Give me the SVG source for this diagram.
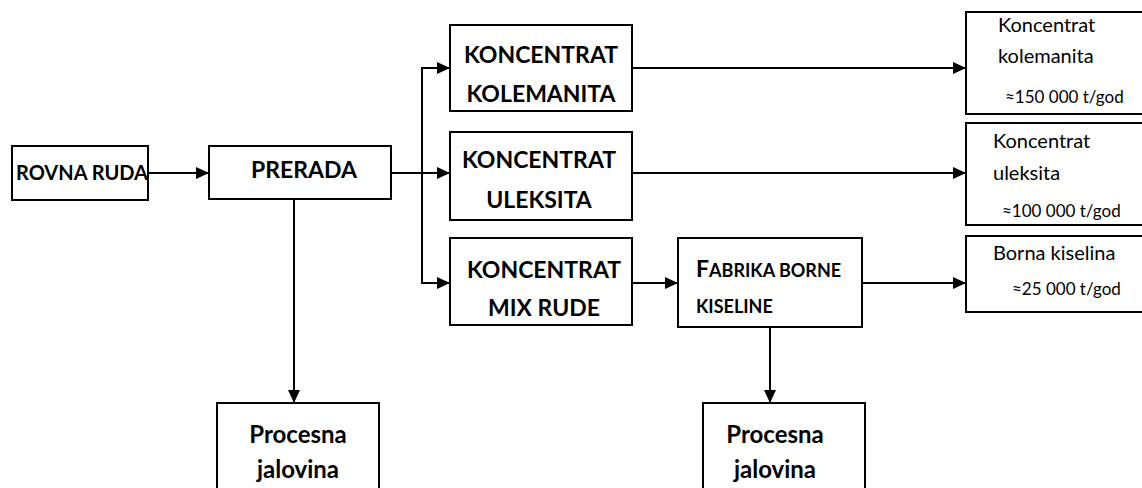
<svg xmlns="http://www.w3.org/2000/svg" width="1142" height="488" viewBox="0 0 1142 488">
  <style>
    .box { fill: #ffffff; stroke: #000000; stroke-width: 2; }
    .link { fill: none; stroke: #000000; stroke-width: 2; }
    .b { font-family: Lato, "Liberation Sans", sans-serif; font-weight: bold; fill: #000000; }
    .r { font-family: Lato, "Liberation Sans", sans-serif; font-weight: normal; fill: #000000; }
  </style>
  <defs>
    <marker id="arrow" viewBox="0 0 13 12" refX="13" refY="6" markerWidth="13" markerHeight="12" markerUnits="userSpaceOnUse" orient="auto">
      <path d="M0,0 L13,6 L0,12 Z" fill="#000000"/>
    </marker>
  </defs>
  <rect width="1142" height="488" fill="#ffffff"/>

  <g id="connectors">
    <path class="link" d="M148,173 H209" marker-end="url(#arrow)"/>
    <path class="link" d="M391,173 H450" marker-end="url(#arrow)"/>
    <path class="link" d="M422,68 V283"/>
    <path class="link" d="M421,68 H450" marker-end="url(#arrow)"/>
    <path class="link" d="M421,283 H450" marker-end="url(#arrow)"/>
    <path class="link" d="M632,68 H966" marker-end="url(#arrow)"/>
    <path class="link" d="M632,173 H966" marker-end="url(#arrow)"/>
    <path class="link" d="M632,283 H678" marker-end="url(#arrow)"/>
    <path class="link" d="M862,283 H966" marker-end="url(#arrow)"/>
    <path class="link" d="M294,199 V403" marker-end="url(#arrow)"/>
    <path class="link" d="M770,327 V403" marker-end="url(#arrow)"/>
  </g>

  <g id="rovna-ruda">
    <rect class="box" x="12" y="146" width="136" height="54"/>
    <text class="b" x="82" y="180" font-size="20" text-anchor="middle">ROVNA RUDA</text>
  </g>

  <g id="prerada">
    <rect class="box" x="209" y="146" width="182" height="53"/>
    <text class="b" x="304" y="178" font-size="23" text-anchor="middle">PRERADA</text>
  </g>

  <g id="koncentrat-kolemanita">
    <rect class="box" x="450" y="25" width="182" height="86"/>
    <text class="b" x="541" y="63" font-size="23" text-anchor="middle">KONCENTRAT</text>
    <text class="b" x="541" y="102" font-size="23" text-anchor="middle">KOLEMANITA</text>
  </g>

  <g id="koncentrat-uleksita">
    <rect class="box" x="450" y="132" width="182" height="88"/>
    <text class="b" x="539" y="168" font-size="23" text-anchor="middle">KONCENTRAT</text>
    <text class="b" x="539" y="208" font-size="23" text-anchor="middle">ULEKSITA</text>
  </g>

  <g id="koncentrat-mix">
    <rect class="box" x="450" y="238" width="182" height="87"/>
    <text class="b" x="544" y="278" font-size="23" text-anchor="middle">KONCENTRAT</text>
    <text class="b" x="544" y="316" font-size="23" text-anchor="middle">MIX RUDE</text>
  </g>

  <g id="fabrika">
    <rect class="box" x="678" y="238" width="184" height="89"/>
    <text class="b" x="696" y="277" font-size="18"><tspan font-size="23">F</tspan>ABRIKA BORNE</text>
    <text class="b" x="696" y="313" font-size="18">KISELINE</text>
  </g>

  <g id="out-kolemanit">
    <rect class="box" x="966" y="12" width="200" height="102"/>
    <text class="r" x="998" y="32" font-size="20">Koncentrat</text>
    <text class="r" x="998" y="63" font-size="20">kolemanita</text>
    <text class="r" x="1005" y="103" font-size="17">≈150 000 t/god</text>
  </g>

  <g id="out-uleksit">
    <rect class="box" x="966" y="123" width="200" height="102"/>
    <text class="r" x="993" y="148" font-size="20">Koncentrat</text>
    <text class="r" x="993" y="180" font-size="20">uleksita</text>
    <text class="r" x="1002" y="217" font-size="17">≈100 000 t/god</text>
  </g>

  <g id="out-borna">
    <rect class="box" x="966" y="236" width="200" height="76"/>
    <text class="r" x="993" y="260" font-size="20">Borna kiselina</text>
    <text class="r" x="1012" y="295" font-size="17">≈25 000 t/god</text>
  </g>

  <g id="jalovina-1">
    <rect class="box" x="217" y="403" width="162" height="100"/>
    <text class="b" x="298" y="443" font-size="24" text-anchor="middle">Procesna</text>
    <text class="b" x="298" y="478" font-size="24" text-anchor="middle">jalovina</text>
  </g>

  <g id="jalovina-2">
    <rect class="box" x="703" y="403" width="162" height="100"/>
    <text class="b" x="775" y="443" font-size="24" text-anchor="middle">Procesna</text>
    <text class="b" x="775" y="478" font-size="24" text-anchor="middle">jalovina</text>
  </g>
</svg>
